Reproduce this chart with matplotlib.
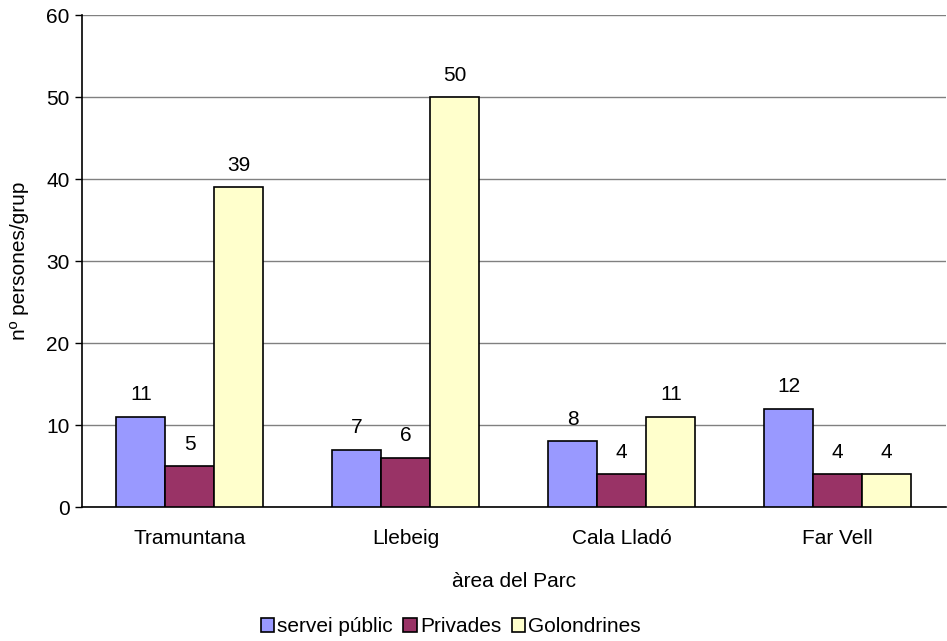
import numpy as np
import matplotlib.pyplot as plt

plt.rcParams['font.family'] = ['Liberation Sans', 'DejaVu Sans']

arees = ['Tramuntana', 'Llebeig', 'Cala Lladó', 'Far Vell']
servei_public = [11, 7, 8, 12]
privades = [5, 6, 4, 4]
golondrines = [39, 50, 11, 4]
series = [('servei públic', servei_public, '#9999ff'),
          ('Privades', privades, '#993366'),
          ('Golondrines', golondrines, '#ffffcc')]

fs = 15

fig = plt.figure(figsize=(9.47, 6.41), dpi=100)
ax = fig.add_axes([0.0866, 0.209, 0.912, 0.7674])

x = np.arange(len(arees))
w = 0.227
for i, (nom, vals, col) in enumerate(series):
    pos = x + (i - 1) * w
    bars = ax.bar(pos, vals, w, color=col, edgecolor='black', linewidth=1.2,
                  label=nom, zorder=3)
    for b, v in zip(bars, vals):
        ax.annotate(str(v), (b.get_x() + b.get_width() / 2, v),
                    xytext=(0, 9), textcoords='offset points',
                    ha='center', va='bottom', fontsize=fs)

ax.set_xlim(-0.5, 3.5)
ax.set_ylim(0, 60)
ax.set_yticks(range(0, 61, 10))
ax.set_xticks(x)
ax.set_xticklabels(arees, fontsize=fs)
ax.tick_params(axis='y', labelsize=fs, direction='out', length=5, width=1, pad=4)
ax.tick_params(axis='x', length=0, pad=16)
ax.yaxis.grid(True, color='#808080', linewidth=1, zorder=0)
ax.set_axisbelow(True)
for s in ['top', 'right']:
    ax.spines[s].set_visible(False)
ax.spines['left'].set_linewidth(1.2)
ax.spines['bottom'].set_linewidth(1.2)

ax.set_xlabel('àrea del Parc', fontsize=fs, labelpad=17)
ax.set_ylabel('nº persones/grup', fontsize=fs, labelpad=12)

fig.legend(loc='lower center', bbox_to_anchor=(0.476, -0.022), ncol=3, frameon=False,
           fontsize=fs, handlelength=0.65, handleheight=0.65, handletextpad=0.15,
           columnspacing=0.5)

fig.savefig('out.png', dpi=100)
